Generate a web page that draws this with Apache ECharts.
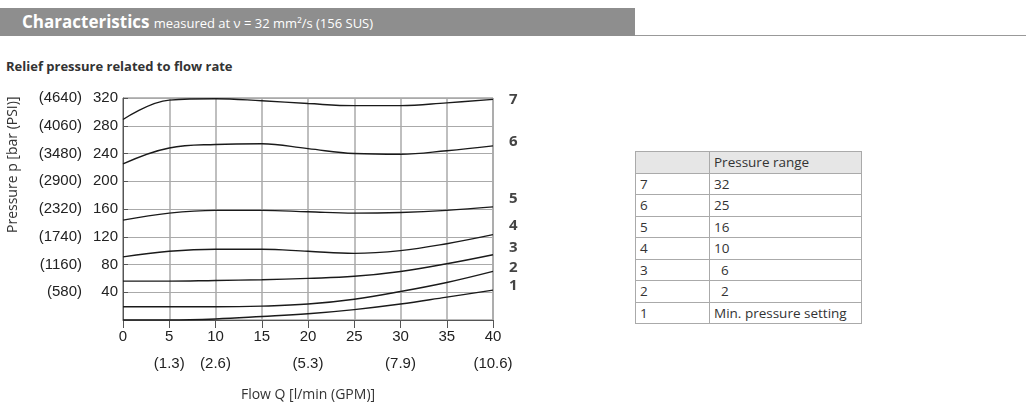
<!DOCTYPE html>
<html>
<head>
<meta charset="utf-8">
<script src="https://cdn.jsdelivr.net/npm/echarts@6/dist/echarts.min.js"></script>
<style>
  html, body { margin: 0; padding: 0; background: #fff; }
  body { width: 1026px; height: 417px; position: relative; overflow: hidden; font-family: "Open Sans", sans-serif; }
  #band { position: absolute; left: 0; top: 8px; width: 635px; height: 28px; background: #8e8e8e; color: #fff; }
  #band b { font-size: 17px; margin-left: 22px; line-height: 28px; }
  #band span { font-size: 13px; }
  #rule { position: absolute; left: 635px; top: 35px; width: 391px; height: 1px; background: #999; }
  #sub { position: absolute; left: 6px; top: 57px; font-size: 13px; font-weight: bold; color: #333; }
  #chart { position: absolute; left: 0; top: 0; width: 620px; height: 417px; }
  table { position: absolute; left: 635px; top: 151px; border-collapse: collapse; font-size: 13.5px; color: #333; }
  td { border: 1px solid #aaa; height: 20.5px; padding: 0 4px; line-height: 20px; }
  td:first-child { width: 65px; }
  td:last-child { width: 143px; }
  tr:first-child td { background: #e6e6e6; }
</style>
</head>
<body>
<div id="band"><b>Characteristics</b> <span>measured at ν = 32 mm²/s (156 SUS)</span></div>
<div id="rule"></div>
<div id="sub">Relief pressure related to flow rate</div>
<div id="chart"></div>
<table>
  <tr><td></td><td>Pressure range</td></tr>
  <tr><td>7</td><td>32</td></tr>
  <tr><td>6</td><td>25</td></tr>
  <tr><td>5</td><td>16</td></tr>
  <tr><td>4</td><td>10</td></tr>
  <tr><td>3</td><td>&nbsp;&nbsp;6</td></tr>
  <tr><td>2</td><td>&nbsp;&nbsp;2</td></tr>
  <tr><td>1</td><td>Min. pressure setting</td></tr>
</table>
<script>
// flow rate l/min
const flow = [0, 5, 10, 15, 20, 25, 30, 35, 40];
// relief pressure, bar
const curve7 = [289, 317, 319, 316, 312, 309, 309, 313, 318];
const curve6 = [225, 248, 253, 254, 247, 240, 239, 244, 251];
const curve5 = [144, 154, 158, 158, 156, 154, 155, 158, 163];
const curve4 = [91, 99, 102, 102, 99, 96, 100, 110, 123];
const curve3 = [56, 56, 57, 58, 60, 63, 70, 81, 94];
const curve2 = [19, 19, 19, 20, 23, 30, 41, 54, 70];
const curve1 = [0, 0, 1.5, 5, 9, 15, 23, 33, 43];
const curveNames = ['7', '6', '5', '4', '3', '2', '1'];
const labelShift = [0, -4, -8, -9, -7, -4, -4];
// tick labels
const psiLabels = { 40: '(580)', 80: '(1160)', 120: '(1740)', 160: '(2320)', 200: '(2900)', 240: '(3480)', 280: '(4060)', 320: '(4640)' };
const gpmLabels = { 5: '(1.3)', 10: '(2.6)', 20: '(5.3)', 30: '(7.9)', 40: '(10.6)' };

const font = '"Liberation Sans Narrow", "Liberation Sans", sans-serif';
const chart = echarts.init(document.getElementById('chart'));

const allCurves = [curve7, curve6, curve5, curve4, curve3, curve2, curve1];
const series = allCurves.map((vals, i) => ({
  type: 'line',
  smooth: 0.4,
  symbol: 'none',
  data: vals.map((v, j) => [flow[j], v]),
  lineStyle: { color: '#1a1a1a', width: 1.4 },
  endLabel: {
    show: true, formatter: curveNames[i], offset: [8, labelShift[i]],
    fontSize: 15, fontWeight: 'bold', color: '#444', fontFamily: 'Open Sans, sans-serif'
  },
  silent: true
}));

chart.setOption({
  animation: false,
  grid: { left: 123, right: 127, top: 98, bottom: 97, show: true, borderColor: '#777', borderWidth: 1 },
  xAxis: [{
    type: 'value', min: 0, max: 40, interval: 5,
    axisLine: { show: false }, axisTick: { show: false },
    axisLabel: { margin: 9, fontSize: 15, color: '#222', fontFamily: font },
    splitLine: { lineStyle: { color: '#aaa', width: 1.5 } }
  }, {
    type: 'value', min: 0, max: 40, interval: 5, position: 'bottom', offset: 26,
    axisLine: { show: true, lineStyle: { color: '#555' } },
    axisTick: { show: true, length: 8, lineStyle: { color: '#555' } },
    axisLabel: { margin: 10, fontSize: 15, color: '#222', fontFamily: font, formatter: v => gpmLabels[v] || '' },
    splitLine: { show: false },
    name: 'Flow Q [l/min (GPM)]', nameLocation: 'middle', nameGap: 42,
    nameTextStyle: { fontSize: 14, color: '#333', fontFamily: 'Open Sans, sans-serif' }
  }],
  yAxis: [{
    type: 'value', min: 0, max: 320, interval: 40,
    axisLine: { show: false }, axisTick: { show: false },
    axisLabel: { margin: 5, fontSize: 15, color: '#222', fontFamily: font, formatter: v => v === 0 ? '' : v },
    splitLine: { lineStyle: { color: '#aaa', width: 1 } }
  }, {
    type: 'value', min: 0, max: 320, interval: 40, position: 'left', offset: 35,
    axisLine: { show: true, lineStyle: { color: '#555' } },
    axisTick: { show: true, inside: true, length: 5, lineStyle: { color: '#555' } },
    axisLabel: { margin: 6, fontSize: 15, color: '#222', fontFamily: font, formatter: v => psiLabels[v] || '' },
    splitLine: { show: false }
  }],
  graphic: [{
    type: 'text', x: 6, y: 233, rotation: Math.PI / 2 * 1,
    style: { text: 'Pressure p [bar (PSI)]', fontSize: 14, fill: '#333', fontFamily: 'Open Sans, sans-serif' },
    rotation: Math.PI / 2
  }],
  series: series
});
</script>
</body>
</html>
